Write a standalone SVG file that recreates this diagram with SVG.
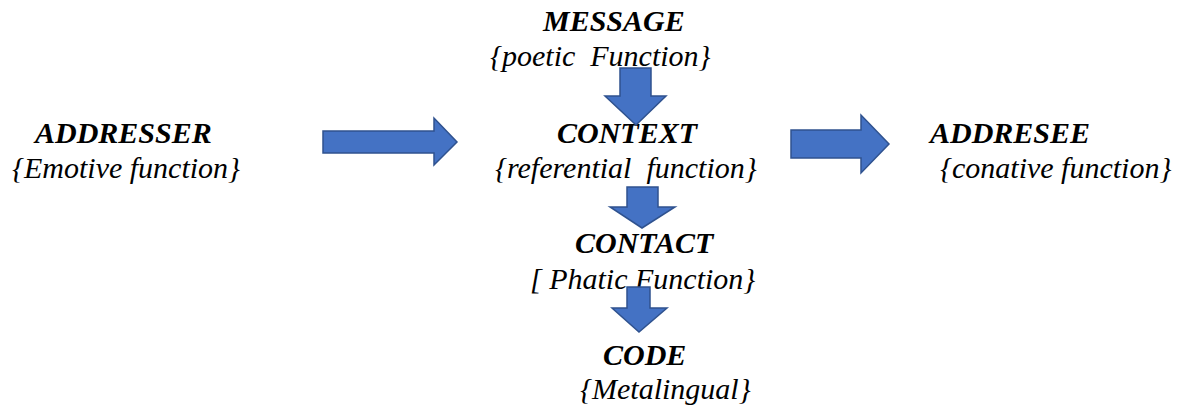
<svg xmlns="http://www.w3.org/2000/svg" width="1192" height="406" viewBox="0 0 1192 406">
<style>
text{font-family:"Liberation Serif","Times New Roman","DejaVu Serif",serif;font-size:30px;font-style:italic;fill:#000}
.t{font-weight:bold}
.a{fill:#4472C4;stroke:#2F528F;stroke-width:1.5;stroke-linejoin:miter}
</style>
<rect width="1192" height="406" fill="#fff"/>
<g id="addresser"><text class="t" x="35" y="143">ADDRESSER</text><text class="s" x="12" y="178">{Emotive function}</text></g>
<g id="message"><text class="t" x="543" y="31">MESSAGE</text><text class="s" x="490" y="66" xml:space="preserve">{poetic  Function}</text></g>
<g id="context"><text class="t" x="557" y="143">CONTEXT</text><text class="s" x="495" y="178" xml:space="preserve">{referential  function}</text></g>
<g id="addresee"><text class="t" x="930" y="143">ADDRESEE</text><text class="s" x="940" y="178">{conative function}</text></g>
<g id="contact"><text class="t" x="575" y="253">CONTACT</text><text class="s" x="530" y="289" xml:space="preserve">[ Phatic Function}</text></g>
<g id="code"><text class="t" x="603" y="365">CODE</text><text class="s" x="580" y="399">{Metalingual}</text></g>
<g id="connectors">
<polygon class="a" points="323,131 434,131 434,118 457,142 434,165 434,153 323,153"/>
<polygon class="a" points="791,130 861,130 861,115 889,144 861,173 861,158 791,158"/>
<polygon class="a" points="620,68 651,68 651,96 666,96 636,125 605,96 620,96"/>
<polygon class="a" points="627,187 658,187 658,207 675,207 642,228 610,207 627,207"/>
<polygon class="a" points="627,287 650,287 650,308 667,308 639,332 612,308 627,308"/>
</g>
</svg>
